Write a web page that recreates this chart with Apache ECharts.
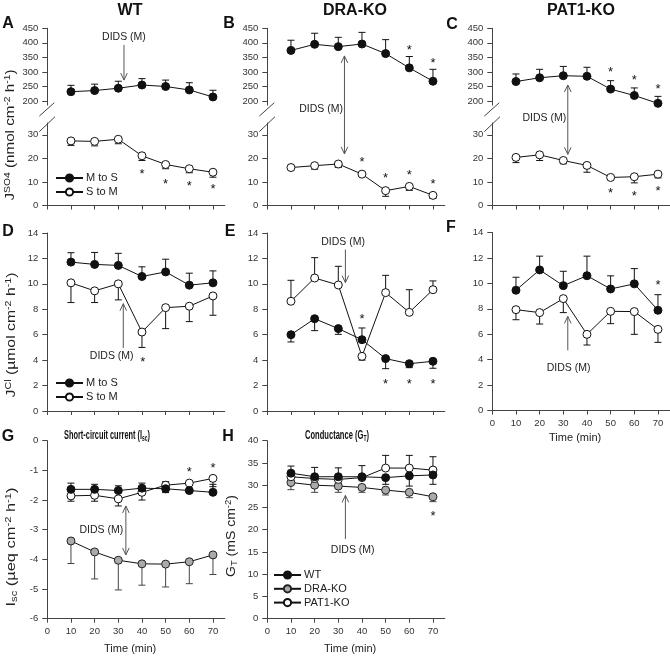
<!DOCTYPE html>
<html><head><meta charset="utf-8">
<script src="https://cdn.jsdelivr.net/npm/echarts@6/dist/echarts.min.js"></script>
<style>html,body{margin:0;padding:0;background:#fff}#c{width:670px;height:659px}</style>
</head><body><div id="c"></div>
<script>
// ---------- DATA ----------
const times = [10, 20, 30, 40, 50, 60, 70];
const xTicks = [0, 10, 20, 30, 40, 50, 60, 70];
const yTicksSO4Upper = [200, 250, 300, 350, 400, 450];
const yTicksSO4Lower = [0, 10, 20, 30];
const yTicksCl = [0, 2, 4, 6, 8, 10, 12, 14];
const yTicksIsc = [0, -1, -2, -3, -4, -5, -6];
const yTicksGt = [0, 5, 10, 15, 20, 25, 30, 35, 40];

// J SO4 (nmol cm-2 h-1); signed SEM: + drawn upward, - drawn downward
const wtSO4MtoS = [232, 236, 244, 255, 250, 238, 214];
const wtSO4MtoSErr = [22, 22, 24, 22, 22, 25, 23];
const wtSO4StoM = [27.4, 27.2, 28.1, 21.1, 17.4, 15.6, 14.1];
const wtSO4StoMErr = [-1.9, -1.9, -1.9, -2.0, -1.8, -1.7, -2.1];
const draSO4MtoS = [374, 395, 387, 396, 363, 314, 268];
const draSO4MtoSErr = [35, 38, 32, 40, 48, 39, 41];
const draSO4StoM = [16.1, 16.9, 17.6, 13.3, 6.3, 8.1, 4.3];
const draSO4StoMErr = [-0.6, -1.5, -1.5, -0.5, -2.4, -1.7, -1.3];
const patSO4MtoS = [267, 280, 287, 285, 241, 219, 192];
const patSO4MtoSErr = [26, 29, 32, 31, 29, 26, 24];
const patSO4StoM = [20.4, 21.5, 19.1, 17.0, 11.9, 12.2, 13.3];
const patSO4StoMErr = [-2.2, -2.4, -1.4, -2.9, -0.9, -2.6, -1.6];

// J Cl (umol cm-2 h-1)
const wtClMtoS = [11.71, 11.53, 11.45, 10.58, 10.94, 9.90, 10.08];
const wtClMtoSErr = [0.74, 0.94, 0.95, 0.76, 1.0, 0.94, 0.94];
const wtClStoM = [10.08, 9.45, 10.0, 6.21, 8.13, 8.24, 9.05];
const wtClStoMErr = [-1.55, -0.92, -1.26, -1.21, -1.65, -1.21, -1.52];
const draClMtoS = [6.0, 7.26, 6.48, 5.61, 4.12, 3.72, 3.91];
const draClMtoSErr = [-0.57, -0.94, -0.45, 0.92, -0.79, -0.31, -0.55];
const draClStoM = [8.63, 10.46, 9.91, 4.30, 9.31, 7.76, 9.54];
const draClStoMErr = [1.65, 1.6, 1.47, -0.3, 1.36, 1.78, 0.69];
const patClMtoS = [9.46, 11.06, 9.82, 10.6, 9.56, 9.96, 7.88];
const patClMtoSErr = [1.02, 1.08, 1.13, 1.54, 1.03, 1.2, 1.23];
const patClStoM = [7.93, 7.70, 8.80, 5.99, 7.80, 7.78, 6.38];
const patClStoMErr = [-0.79, -0.9, -1.1, -0.84, -0.97, -1.79, -1.02];

// Isc (ueq cm-2 h-1)
const iscWT = [-1.64, -1.64, -1.68, -1.60, -1.62, -1.68, -1.74];
const iscWTErr = [0.21, 0.17, 0.16, 0.17, -0.13, -0.05, 0.27];
const iscDRA = [-3.38, -3.75, -4.03, -4.15, -4.16, -4.08, -3.85];
const iscDRAErr = [-0.76, -0.91, -1.0, -0.72, -0.77, -0.74, -0.66];
const iscPAT = [-1.86, -1.84, -1.96, -1.74, -1.50, -1.43, -1.27];
const iscPATErr = [-0.18, -0.2, -0.24, -0.26, 0.12, -0.05, -0.28];

// GT (mS cm-2)
const gtWT = [32.7, 31.9, 31.9, 31.9, 31.7, 32.1, 32.3];
const gtWTErr = [1.6, 2.1, 2.0, 2.5, -1.5, -2.3, -2.1];
const gtDRA = [30.6, 30.0, 29.8, 29.5, 28.9, 28.4, 27.4];
const gtDRAErr = [-1.6, -1.6, -1.4, -1.1, -1.1, -1.2, -1.1];
const gtPAT = [31.9, 31.5, 31.3, 31.7, 33.85, 33.85, 33.4];
const gtPATErr = [-0.3, -0.3, -0.3, -0.3, 2.85, 2.85, 3.0];

// significance asterisks [time, value]
const starsA = [[40, 14.3], [50, 9.8], [60, 9.3], [70, 7.9]];
const starsBUp = [[60, 381], [70, 338]];
const starsBLow = [[40, 19.3], [50, 12.6], [60, 14.0], [70, 10.0]];
const starsCUp = [[50, 306], [60, 280], [70, 250]];
const starsCLow = [[50, 6.2], [60, 5.1], [70, 7.2]];
const starsD = [[40.3, 3.98]];
const starsE = [[40, 7.4], [50, 2.25], [60, 2.25], [70, 2.25]];
const starsF = [[70, 10.03]];
const starsG = [[60, -0.99], [70, -0.85]];
const starsH = [[70, 23.5]];

// DIDS (M) annotations: [gridIndex, time, value]
const didsNotes = [
  { from: [0, 32.4, 393], to: [0, 32.4, 272], both: false, label: [0, 32.4, 418], align: 'center' },
  { from: [2, 32.6, 355], to: [3, 32.6, 21.9], both: true, label: [2, 32.0, 172.6], align: 'right' },
  { from: [4, 31.9, 255], to: [5, 31.9, 21.7], both: true, label: [5, 31.2, 37.1], align: 'right' },
  { from: [6, 32.1, 4.96], to: [6, 32.1, 8.44], both: false, label: [6, 27.2, 4.3], align: 'center' },
  { from: [7, 33.0, 12.7], to: [7, 33.0, 10.1], both: false, label: [7, 32.0, 13.3], align: 'center' },
  { from: [8, 31.9, 4.73], to: [8, 31.9, 7.4], both: false, label: [8, 32.2, 3.36], align: 'center' },
  { from: [9, 33.2, -2.2], to: [9, 33.2, -3.85], both: true, label: [9, 32.1, -3.0], align: 'right' },
  { from: [10, 33.0, 17.9], to: [10, 33.0, 27.7], both: false, label: [10, 36.1, 15.4], align: 'center' }
];

// ---------- CHART ----------
const FONT = 'Liberation Sans, Arial, sans-serif';
const chart = echarts.init(document.getElementById('c'), null, { renderer: 'canvas' });
const C1 = 47.3, C2 = 267.3, C3 = 492.3, W = 177.5;
const gridRects = [
  [C1, 28.3, 76.8], [C1, 123, 82.5],
  [C2, 28.3, 76.8], [C2, 123, 82.5],
  [C3, 28.3, 76.8], [C3, 123, 82.5],
  [C1, 233, 178], [C2, 233, 178], [C3, 232.5, 178],
  [C1, 440.7, 178], [C2, 440.7, 178]
];
const yCfg = [
  [186, 450, yTicksSO4Upper], [0, 35, yTicksSO4Lower],
  [186, 450, yTicksSO4Upper], [0, 35, yTicksSO4Lower],
  [186, 450, yTicksSO4Upper], [0, 35, yTicksSO4Lower],
  [0, 14, yTicksCl], [0, 14, yTicksCl], [0, 14, yTicksCl],
  [-6, 0, yTicksIsc], [0, 40, yTicksGt]
];
const upperGrids = [0, 2, 4];
const labelledX = [8, 9, 10];
const AX = '#444', TXT = '#222', LBL = '#333';

const grid = gridRects.map(r => ({ left: r[0], top: r[1], width: W, height: r[2], containLabel: false, outerBoundsMode: 'none' }));
const xAxis = gridRects.map((r, i) => ({
  gridIndex: i, type: 'value', min: 0, max: 75,
  show: upperGrids.indexOf(i) < 0,
  axisLine: { show: true, onZero: false, lineStyle: { color: AX, width: 1 } },
  axisTick: { show: true, length: 4, customValues: xTicks, lineStyle: { color: AX } },
  axisLabel: { show: labelledX.indexOf(i) >= 0, customValues: xTicks, fontSize: 9.5, color: LBL, margin: 8, fontFamily: FONT },
  splitLine: { show: false }
}));
const yAxis = yCfg.map((c, i) => ({
  gridIndex: i, type: 'value', min: c[0], max: c[1],
  axisLine: { show: true, onZero: false, lineStyle: { color: AX, width: 1 } },
  axisTick: { show: true, length: 5, customValues: c[2], lineStyle: { color: AX } },
  axisLabel: { customValues: c[2], fontSize: 9.5, color: LBL, margin: 9, fontFamily: FONT },
  splitLine: { show: false }
}));

const FILLED = { color: '#111', borderColor: '#111', borderWidth: 1 };
const OPEN = { color: '#fff', borderColor: '#111', borderWidth: 1 };
const GREY = { color: '#aaaaaa', borderColor: '#222', borderWidth: 1 };

function lineS(name, g, vals, style) {
  return {
    type: 'line', name: name, xAxisIndex: g, yAxisIndex: g,
    data: times.map((t, i) => [t, vals[i]]),
    symbol: 'circle', symbolSize: 8, showSymbol: true,
    lineStyle: { color: '#111', width: 1 }, itemStyle: style, z: 3,
    emphasis: { disabled: true }, silent: true
  };
}
function errS(g, vals, errs, color) {
  return {
    type: 'custom', xAxisIndex: g, yAxisIndex: g, z: 2, silent: true,
    data: times.map((t, i) => [t, vals[i], errs[i]]),
    encode: { x: 0, y: 1 },
    renderItem: function (params, api) {
      const x = api.value(0), y = api.value(1), e = api.value(2);
      const p0 = api.coord([x, y]), p1 = api.coord([x, y + e]);
      const hw = 3.5;
      return {
        type: 'group', children: [
          { type: 'line', shape: { x1: p0[0], y1: p0[1], x2: p1[0], y2: p1[1] }, style: { stroke: color, lineWidth: 1 } },
          { type: 'line', shape: { x1: p1[0] - hw, y1: p1[1], x2: p1[0] + hw, y2: p1[1] }, style: { stroke: color, lineWidth: 1 } }
        ]
      };
    }
  };
}
function starS(g, pts) {
  return {
    type: 'custom', xAxisIndex: g, yAxisIndex: g, z: 4, silent: true,
    data: pts, encode: { x: 0, y: 1 },
    renderItem: function (params, api) {
      const p = api.coord([api.value(0), api.value(1)]);
      return {
        type: 'text', x: p[0], y: p[1] + 2.5,
        style: { text: '*', fontSize: 13, fontFamily: FONT, fill: '#111', align: 'center', verticalAlign: 'middle', textAlign: 'center', textVerticalAlign: 'middle' }
      };
    }
  };
}

const series = [
  errS(0, wtSO4MtoS, wtSO4MtoSErr, '#111'), lineS('M to S', 0, wtSO4MtoS, FILLED),
  errS(1, wtSO4StoM, wtSO4StoMErr, '#111'), lineS('S to M', 1, wtSO4StoM, OPEN),
  starS(1, starsA),
  errS(2, draSO4MtoS, draSO4MtoSErr, '#111'), lineS('M to S', 2, draSO4MtoS, FILLED),
  errS(3, draSO4StoM, draSO4StoMErr, '#111'), lineS('S to M', 3, draSO4StoM, OPEN),
  starS(2, starsBUp), starS(3, starsBLow),
  errS(4, patSO4MtoS, patSO4MtoSErr, '#111'), lineS('M to S', 4, patSO4MtoS, FILLED),
  errS(5, patSO4StoM, patSO4StoMErr, '#111'), lineS('S to M', 5, patSO4StoM, OPEN),
  starS(4, starsCUp), starS(5, starsCLow),
  errS(6, wtClMtoS, wtClMtoSErr, '#111'), lineS('M to S', 6, wtClMtoS, FILLED),
  errS(6, wtClStoM, wtClStoMErr, '#111'), lineS('S to M', 6, wtClStoM, OPEN),
  starS(6, starsD),
  errS(7, draClMtoS, draClMtoSErr, '#111'), lineS('M to S', 7, draClMtoS, FILLED),
  errS(7, draClStoM, draClStoMErr, '#111'), lineS('S to M', 7, draClStoM, OPEN),
  starS(7, starsE),
  errS(8, patClMtoS, patClMtoSErr, '#111'), lineS('M to S', 8, patClMtoS, FILLED),
  errS(8, patClStoM, patClStoMErr, '#111'), lineS('S to M', 8, patClStoM, OPEN),
  starS(8, starsF),
  errS(9, iscDRA, iscDRAErr, '#444'), lineS('DRA-KO', 9, iscDRA, GREY),
  errS(9, iscPAT, iscPATErr, '#111'), lineS('PAT1-KO', 9, iscPAT, OPEN),
  errS(9, iscWT, iscWTErr, '#111'), lineS('WT', 9, iscWT, FILLED),
  starS(9, starsG),
  errS(10, gtDRA, gtDRAErr, '#444'), lineS('DRA-KO', 10, gtDRA, GREY),
  errS(10, gtPAT, gtPATErr, '#111'), lineS('PAT1-KO', 10, gtPAT, OPEN),
  errS(10, gtWT, gtWTErr, '#111'), lineS('WT', 10, gtWT, FILLED),
  starS(10, starsH)
];

const legendBase = {
  orient: 'vertical', itemWidth: 27, itemHeight: 9, itemGap: 2, selectedMode: false, padding: 0,
  textStyle: { fontSize: 11, color: TXT, lineHeight: 12, fontFamily: FONT, padding: [0, 0, 0, -2] }
};
const legend = [
  Object.assign({}, legendBase, { data: ['M to S', 'S to M'], left: 55, top: 172 }),
  Object.assign({}, legendBase, { data: ['M to S', 'S to M'], left: 55, top: 377 }),
  Object.assign({}, legendBase, { data: ['WT', 'DRA-KO', 'PAT1-KO'], left: 273, top: 569, itemGap: 1.8 })
];

chart.setOption({
  animation: false, backgroundColor: '#fff',
  grid: grid, xAxis: xAxis, yAxis: yAxis, series: series, legend: legend
});

// ---------- ANNOTATIONS ----------
function px(g, x, y) { return chart.convertToPixel({ xAxisIndex: g, yAxisIndex: g }, [x, y]); }
function txt(x, y, text, opt) {
  opt = opt || {};
  const s = Object.assign({
    text: text, fontSize: 11, fontFamily: FONT, fill: TXT,
    align: opt.align || 'center', verticalAlign: 'middle',
    textAlign: opt.align || 'center', textVerticalAlign: 'middle'
  }, opt.style || {});
  return { type: 'text', x: x, y: y, rotation: opt.rotation || 0, scaleX: opt.scaleX || 1, silent: true, style: s };
}
const mctx = document.createElement('canvas').getContext('2d');
function richTokens(tokens, rich) {
  let w = 0, s = '';
  tokens.forEach(t => {
    const st = rich[t[1]];
    mctx.font = (st.fontWeight === 'bold' ? 'bold ' : '') + st.fontSize + 'px ' + FONT;
    w += mctx.measureText(t[0]).width;
    s += '{' + t[1] + '|' + t[0] + '}';
  });
  return { text: s, width: w };
}
const gfx = [];
const BOLD16 = { fontSize: 16, fontWeight: 'bold', fill: '#111' };
gfx.push(txt(130, 11, 'WT', { style: BOLD16 }));
gfx.push(txt(355, 11, 'DRA-KO', { style: BOLD16 }));
gfx.push(txt(581, 11, 'PAT1-KO', { style: BOLD16 }));
[['A', 8, 24], ['B', 229, 24], ['C', 452, 25], ['D', 8, 232], ['E', 230, 232], ['F', 451, 228], ['G', 8, 437], ['H', 228, 437]]
  .forEach(l => gfx.push(txt(l[1], l[2], l[0], { style: BOLD16 })));

// panel titles (condensed bold)
const richTitle = {
  b: { fontSize: 13.5, fontWeight: 'bold', fill: '#111', fontFamily: FONT, lineHeight: 16 },
  sub: { fontSize: 9, fontWeight: 'bold', fill: '#111', fontFamily: FONT, lineHeight: 8, verticalAlign: 'bottom' }
};
[[107, 435, 86, [['Short-circuit current (I', 'b'], ['sc', 'sub'], [')', 'b']]],
 [337, 435, 64, [['Conductance (G', 'b'], ['T', 'sub'], [')', 'b']]]].forEach(t => {
  const r = richTokens(t[3], richTitle);
  gfx.push(txt(t[0], t[1], r.text, { scaleX: t[2] / r.width, style: { rich: richTitle } }));
});

// y axis titles (rotated); target lengths along the text
const richY = {
  m: { fontSize: 12.5, fill: TXT, fontFamily: FONT, lineHeight: 15 },
  sup: { fontSize: 8.5, fill: TXT, fontFamily: FONT, lineHeight: 9, verticalAlign: 'top' },
  sub: { fontSize: 8.5, fill: TXT, fontFamily: FONT, lineHeight: 9, verticalAlign: 'bottom' }
};
const R90 = Math.PI / 2;
[[11, 135, 131, [['J', 'm'], ['SO4', 'sup'], [' (nmol cm', 'm'], ['-2', 'sup'], [' h', 'm'], ['-1', 'sup'], [')', 'm']]],
 [12, 335, 125, [['J', 'm'], ['Cl', 'sup'], [' (µmol cm', 'm'], ['-2', 'sup'], [' h', 'm'], ['-1', 'sup'], [')', 'm']]],
 [12, 547, 119, [['I', 'm'], ['sc', 'sub'], [' (µeq cm', 'm'], ['-2', 'sup'], [' h', 'm'], ['-1', 'sup'], [')', 'm']]],
 [232, 536, 82, [['G', 'm'], ['T', 'sub'], [' (mS cm', 'm'], ['-2', 'sup'], [')', 'm']]]].forEach(t => {
  const r = richTokens(t[3], richY);
  gfx.push(txt(t[0], t[1], r.text, { rotation: R90, scaleX: t[2] / r.width, style: { rich: richY } }));
});

// x axis titles
[[8, 27], [9, 30], [10, 30]].forEach(a => {
  const p = px(a[0], 35, yCfg[a[0]][0]);
  gfx.push(txt(p[0], p[1] + a[1], 'Time (min)', { style: { fontSize: 11 } }));
});
// axis breaks
[[0, 1], [2, 3], [4, 5]].forEach(pr => {
  const ub = px(pr[0], 0, 186), lt = px(pr[1], 0, 35);
  const ax = ub[0];
  gfx.push({ type: 'line', silent: true, shape: { x1: ax - 8, y1: ub[1] + 11, x2: ax + 7, y2: ub[1] - 2.4 }, style: { stroke: AX, lineWidth: 1 } });
  gfx.push({ type: 'line', silent: true, shape: { x1: ax - 8, y1: lt[1] + 8.7, x2: ax + 7.7, y2: lt[1] - 6.3 }, style: { stroke: AX, lineWidth: 1 } });
});
// DIDS arrows
const ARC = '#555';
function head(tip, dir) {
  return { type: 'polyline', silent: true, shape: { points: [[tip[0] - 3.3, tip[1] - dir * 7], [tip[0], tip[1]], [tip[0] + 3.3, tip[1] - dir * 7]] }, style: { stroke: ARC, lineWidth: 1, fill: null } };
}
didsNotes.forEach(n => {
  const a = px(n.from[0], n.from[1], n.from[2]);
  const b = px(n.to[0], n.to[1], n.to[2]);
  gfx.push({ type: 'line', silent: true, shape: { x1: a[0], y1: a[1], x2: b[0], y2: b[1] }, style: { stroke: ARC, lineWidth: 1 } });
  const dir = b[1] > a[1] ? 1 : -1;
  gfx.push(head(b, dir));
  if (n.both) gfx.push(head(a, -dir));
  const l = px(n.label[0], n.label[1], n.label[2]);
  gfx.push(txt(l[0], l[1], 'DIDS (M)', { align: n.align, style: { fontSize: 10.5 } }));
});

chart.setOption({ graphic: { elements: gfx } });
</script></body></html>
